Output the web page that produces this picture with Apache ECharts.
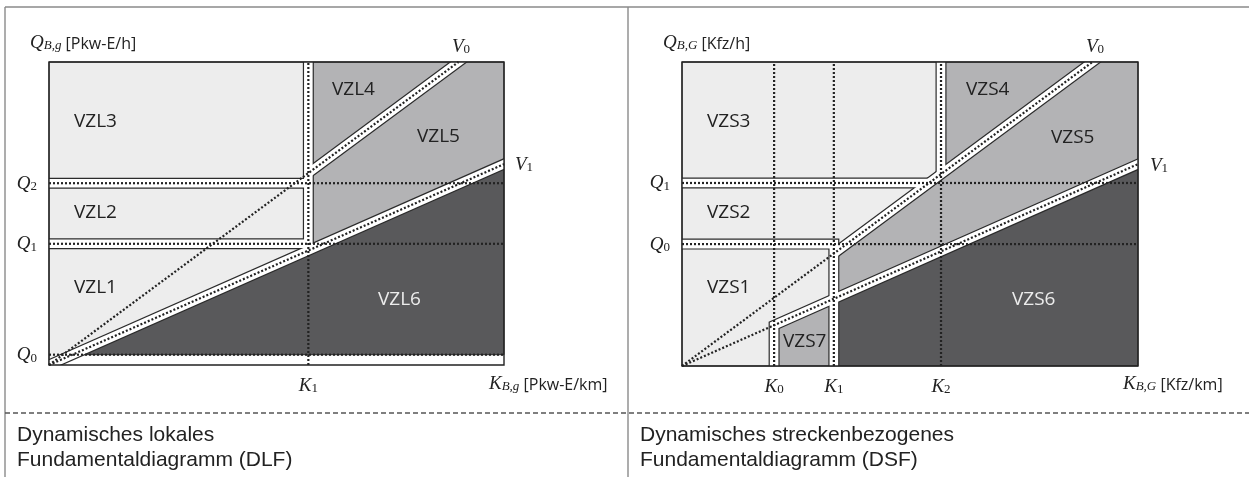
<!DOCTYPE html>
<html>
<head>
<meta charset="utf-8">
<script src="https://cdn.jsdelivr.net/npm/echarts@6/dist/echarts.min.js"></script>
<style>
html,body{margin:0;padding:0;background:#fff;}
#chart{width:1249px;height:477px;}
</style>
</head>
<body>
<div id="chart"></div>
<script>
// both plot boxes run 0..100 on K (x) and Q (y)

// DLF - left
var dlfK = [57];                 // K1
var dlfKSub = ['1'];
var dlfQ = [3.4, 40, 60];        // Q0, Q1, Q2
var dlfQSub = ['0', '1', '2'];
var dlfV0 = 90;                  // K where V0 hits the top
var dlfV1 = 66.3;                // Q where V1 hits the right edge
var dlfZones = ['VZL1', 'VZL2', 'VZL3', 'VZL4', 'VZL5', 'VZL6'];

// DSF - right
var dsfK = [20.2, 33.3, 56.8];   // K0, K1, K2
var dsfKSub = ['0', '1', '2'];
var dsfQ = [40.1, 60.2];         // Q0, Q1
var dsfQSub = ['0', '1'];
var dsfV0 = 90;
var dsfV1 = 66.4;
var dsfZones = ['VZS1', 'VZS2', 'VZS3', 'VZS4', 'VZS5', 'VZS6', 'VZS7'];

var LIGHT = '#ededed', MID = '#b3b3b5', DARK = '#59595b', INK = '#222';

function onV0(v0, k){ return k * 100 / v0; }
function onV1(v1, k){ return k * v1 / 100; }

// ---- left geometry
var lK1 = dlfK[0], lQ0 = dlfQ[0], lQ1 = dlfQ[1], lQ2 = dlfQ[2];
var dlfPolys = [
    {fill: LIGHT, pts: [[0,100],[lK1,100],[lK1,onV1(dlfV1,lK1)],[0,0]]},
    {fill: MID,   pts: [[lK1,100],[100,100],[100,dlfV1],[lK1,onV1(dlfV1,lK1)]]},
    {fill: DARK,  pts: [[lQ0*100/dlfV1,lQ0],[100,dlfV1],[100,lQ0]]}
];
var dlfBands = [
    [[lK1,100],[lK1,onV1(dlfV1,lK1)]],
    [[0,lQ2],[lK1,lQ2]],
    [[0,lQ1],[lK1,lQ1]],
    [[lK1,onV0(dlfV0,lK1)],[dlfV0,100]],
    [[0,0],[100,dlfV1]]
];
var dlfGuides = [
    [[lK1,0],[lK1,100]],
    [[0,lQ0],[100,lQ0]],
    [[0,lQ1],[100,lQ1]],
    [[0,lQ2],[100,lQ2]],
    [[0,0],[dlfV0,100]],
    [[0,0],[100,dlfV1]]
];

// ---- right geometry
var rK0 = dsfK[0], rK1 = dsfK[1], rK2 = dsfK[2], rQ0 = dsfQ[0], rQ1 = dsfQ[1];
var dsfPolys = [
    {fill: LIGHT, pts: [[0,100],[rK2,100],[rK2,onV0(dsfV0,rK2)],[rK1,onV0(dsfV0,rK1)],
                        [rK1,onV1(dsfV1,rK1)],[rK0,onV1(dsfV1,rK0)],[rK0,0],[0,0]]},
    {fill: MID,   pts: [[rK2,100],[100,100],[100,dsfV1],[rK1,onV1(dsfV1,rK1)],
                        [rK1,onV0(dsfV0,rK1)],[rK2,onV0(dsfV0,rK2)]]},
    {fill: MID,   pts: [[rK0,onV1(dsfV1,rK0)],[rK1,onV1(dsfV1,rK1)],[rK1,0],[rK0,0]]},
    {fill: DARK,  pts: [[rK1,onV1(dsfV1,rK1)],[100,dsfV1],[100,0],[rK1,0]]}
];
var dsfBands = [
    [[0,rQ1],[rQ1*dsfV0/100,rQ1]],
    [[rK2,100],[rK2,onV0(dsfV0,rK2)]],
    [[rK1,onV0(dsfV0,rK1)],[dsfV0,100]],
    [[0,rQ0],[rK1,rQ0],[rK1,0]],
    [[rK0,0],[rK0,onV1(dsfV1,rK0)],[100,dsfV1]]
];
var dsfGuides = [
    [[rK0,0],[rK0,100]],
    [[rK1,0],[rK1,100]],
    [[rK2,0],[rK2,100]],
    [[0,rQ0],[100,rQ0]],
    [[0,rQ1],[100,rQ1]],
    [[0,0],[dsfV0,100]],
    [[0,0],[100,dsfV1]]
];

function onEdge(d){ return d[0] <= 0 || d[0] >= 100 || d[1] <= 0 || d[1] >= 100; }
function push(a, b){
    var dx = a[0]-b[0], dy = a[1]-b[1], L = Math.sqrt(dx*dx+dy*dy);
    return [a[0]+dx/L*8, a[1]+dy/L*8];
}

function zoneItem(polys){
    return function(params, api){
        var p = polys[params.dataIndex];
        return {type:'polygon', shape:{points: p.pts.map(function(d){ return api.coord(d); })},
                style:{fill:p.fill, stroke:'#2b2b2b', lineWidth:1}};
    };
}
function bandItem(lines, width, color){
    return function(params, api){
        var src = lines[params.dataIndex];
        var pts = src.map(function(d){ return api.coord(d); });
        var n = pts.length;
        if(onEdge(src[0])) pts[0] = push(pts[0], pts[1]);
        if(onEdge(src[n-1])) pts[n-1] = push(pts[n-1], pts[n-2]);
        return {type:'polyline', shape:{points:pts},
                style:{stroke:color, lineWidth:width, fill:null, lineJoin:'miter'}};
    };
}
function guideItem(lines){
    return function(params, api){
        var pts = lines[params.dataIndex].map(function(d){ return api.coord(d); });
        return {type:'polyline', shape:{points:pts},
                style:{stroke:INK, lineWidth:2.2, fill:null, lineDash:[2,2]}};
    };
}
function frameItem(params, api){
    var c = params.coordSys;
    return {type:'rect', shape:{x:c.x, y:c.y, width:c.width, height:c.height},
            style:{fill:null, stroke:'#222', lineWidth:1.4}};
}

function panelSeries(idx, polys, bands, guides){
    var first = function(l){ return l[0]; };
    var base = {type:'custom', xAxisIndex:idx, yAxisIndex:idx, silent:true};
    return [
        Object.assign({}, base, {z:2, renderItem:zoneItem(polys), data:polys.map(function(p){ return p.pts[0]; })}),
        Object.assign({}, base, {z:3, clip:true, renderItem:bandItem(bands, 11, '#2b2b2b'), data:bands.map(first)}),
        Object.assign({}, base, {z:4, clip:true, renderItem:bandItem(bands, 8.6, '#fff'), data:bands.map(first)}),
        Object.assign({}, base, {z:5, renderItem:frameItem, data:[[0,0]]}),
        Object.assign({}, base, {z:6, renderItem:guideItem(guides), data:guides.map(first)})
    ];
}

var mathRich = {
    m: {fontFamily:'Liberation Serif', fontStyle:'italic', fontSize:19, color:INK, lineHeight:20, verticalAlign:'bottom'},
    s: {fontFamily:'Liberation Serif', fontSize:13, color:INK, lineHeight:7, verticalAlign:'bottom'}
};
function tickFmt(vals, subs, letter){
    return function(v){
        for(var i=0;i<vals.length;i++){
            if(Math.abs(vals[i]-v) < 1e-6) return '{m|' + letter + '}{s|' + subs[i] + '}';
        }
        return '';
    };
}
function axis(idx, vals, subs, letter, margin){
    return {
        gridIndex: idx, type:'value', min:0, max:100,
        axisLine:{show:false}, axisTick:{show:false}, splitLine:{show:false},
        axisLabel:{customValues: vals, margin: margin, formatter: tickFmt(vals, subs, letter), rich: mathRich}
    };
}

// text helpers for the graphic layer (zrender styles)
var gRich = {
    m: {fontFamily:'Liberation Serif', fontStyle:'italic', fontSize:19, fill:INK, lineHeight:20, verticalAlign:'bottom'},
    si:{fontFamily:'Liberation Serif', fontStyle:'italic', fontSize:13, fill:INK, lineHeight:7, verticalAlign:'bottom'},
    s: {fontFamily:'Liberation Serif', fontSize:13, fill:INK, lineHeight:7, verticalAlign:'bottom'},
    u: {fontFamily:'Open Sans', fontSize:16, fill:INK, lineHeight:20, verticalAlign:'bottom'}
};
function txt(x, y, text, extra){
    var st = {text:text, x:0, y:0, align:'left', verticalAlign:'middle', rich:gRich,
              fontFamily:'Open Sans', fontSize:19, fill:INK};
    for(var k in (extra||{})) st[k] = extra[k];
    return {type:'text', x:x, y:y, z:10, silent:true, style:st};
}
function hline(x1, y1, x2, y2, stroke, dash){
    return {type:'line', z:1, silent:true, shape:{x1:x1, y1:y1, x2:x2, y2:y2},
            style:{stroke:stroke, lineWidth:1.4, lineDash:dash || null}};
}

var zoneAtL = [[74,288],[74,213],[74,122],[332,90],[417,137],[378,300]];
var zoneAtR = [[707,288],[707,213],[707,122],[966,90],[1051,138],[1012,300],[783,342]];

var graphics = [
    hline(5, 7, 1249, 7, '#8a8a8a'),
    hline(5, 7, 5, 477, '#8a8a8a'),
    hline(628, 7, 628, 477, '#8a8a8a'),
    hline(5, 413, 1249, 413, '#555', [5, 3]),
    txt(30, 42, '{m|Q}{si|B,g}{u| [Pkw-E/h]}'),
    txt(489, 383, '{m|K}{si|B,g}{u| [Pkw-E/km]}'),
    txt(452, 46, '{m|V}{s|0}'),
    txt(515, 164, '{m|V}{s|1}'),
    txt(663, 42, '{m|Q}{si|B,G}{u| [Kfz/h]}'),
    txt(1123, 383, '{m|K}{si|B,G}{u| [Kfz/km]}'),
    txt(1086, 46, '{m|V}{s|0}'),
    txt(1150, 165, '{m|V}{s|1}'),
    txt(17, 435, 'Dynamisches lokales', {fontFamily:'Liberation Sans', fontSize:21}),
    txt(17, 460, 'Fundamentaldiagramm (DLF)', {fontFamily:'Liberation Sans', fontSize:21}),
    txt(640, 435, 'Dynamisches streckenbezogenes', {fontFamily:'Liberation Sans', fontSize:21}),
    txt(640, 460, 'Fundamentaldiagramm (DSF)', {fontFamily:'Liberation Sans', fontSize:21})
];
dlfZones.forEach(function(name, i){
    graphics.push(txt(zoneAtL[i][0], zoneAtL[i][1], name, name === 'VZL6' ? {fill:'#ececec'} : {}));
});
dsfZones.forEach(function(name, i){
    graphics.push(txt(zoneAtR[i][0], zoneAtR[i][1], name, name === 'VZS6' ? {fill:'#ececec'} : {}));
});

var option = {
    animation: false,
    backgroundColor: '#fff',
    grid: [
        {left: 49, top: 62, width: 455, height: 303},
        {left: 682, top: 62, width: 456, height: 304}
    ],
    xAxis: [axis(0, dlfK, dlfKSub, 'K', 10), axis(1, dsfK, dsfKSub, 'K', 10)],
    yAxis: [axis(0, dlfQ, dlfQSub, 'Q', 12), axis(1, dsfQ, dsfQSub, 'Q', 12)],
    graphic: graphics,
    series: panelSeries(0, dlfPolys, dlfBands, dlfGuides).concat(panelSeries(1, dsfPolys, dsfBands, dsfGuides))
};

var myChart = echarts.init(document.getElementById('chart'));
myChart.setOption(option);
</script>
</body>
</html>
